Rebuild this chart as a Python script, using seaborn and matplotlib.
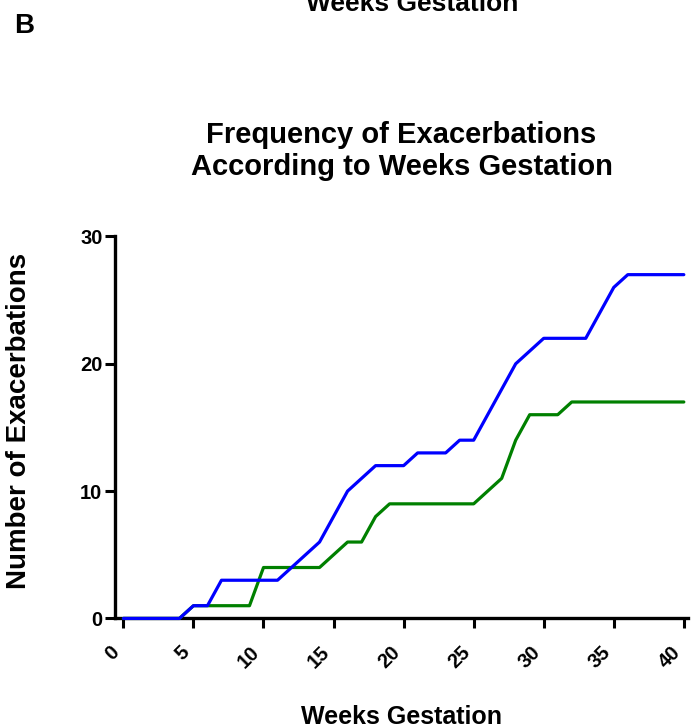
#frequency of exacerbations by weeks gestation
import seaborn as sns
import matplotlib.pyplot as plt
import pandas as pd

# data (cumulative counts per week)
weeks = list(range(0, 41))
series_blue = [0, 0, 0, 0, 0, 1, 1, 3, 3, 3, 3, 3, 4, 5, 6, 8, 10, 11, 12, 12,
               12, 13, 13, 13, 14, 14, 16, 18, 20, 21, 22, 22, 22, 22, 24, 26, 27, 27, 27, 27, 27]
series_green = [0, 0, 0, 0, 0, 1, 1, 1, 1, 1, 4, 4, 4, 4, 4, 5, 6, 6, 8, 9,
                9, 9, 9, 9, 9, 9, 10, 11, 14, 16, 16, 16, 17, 17, 17, 17, 17, 17, 17, 17, 17]
x_ticks = [0, 5, 10, 15, 20, 25, 30, 35, 40]
y_ticks = [0, 10, 20, 30]

df = pd.DataFrame({
    'week': weeks * 2,
    'count': series_green + series_blue,
    'series': ['Series 2'] * len(weeks) + ['Series 1'] * len(weeks),
})

sns.set_style('ticks')
plt.rcParams['font.family'] = ['Liberation Sans', 'DejaVu Sans']
plt.rcParams['font.weight'] = 'bold'
for key in ['text.color', 'axes.labelcolor', 'xtick.color', 'ytick.color']:
    plt.rcParams[key] = 'black'

fig = plt.figure(figsize=(6.91, 7.28), dpi=100)
ax = fig.add_axes([0.1664, 0.1505, 0.8293, 0.5247])

ax = sns.lineplot(data=df, x='week', y='count', hue='series',
                  hue_order=['Series 2', 'Series 1'],
                  palette={'Series 2': '#008000', 'Series 1': '#0000FF'},
                  linewidth=2.3, legend=False, ax=ax)
for line in ax.lines:
    line.set_clip_on(False)
    line.set_zorder(3)

ax.set_xlim(-0.6, 40.3)
ax.set_ylim(0, 30)
ax.set_xticks(x_ticks)
ax.set_yticks(y_ticks)
ax.set_xticklabels([str(t) for t in x_ticks], rotation=45, ha='right',
                   fontsize=14.5, fontweight='bold')
ax.set_yticklabels([str(t) for t in y_ticks], fontsize=14.5, fontweight='bold')

sns.despine(ax=ax)
for side in ['left', 'bottom']:
    ax.spines[side].set_linewidth(2.4)
    ax.spines[side].set_color('black')
ax.spines['left'].set_bounds(0, 30)
ax.tick_params(axis='both', width=2.2, length=7.5, color='black')
ax.tick_params(axis='x', pad=10)
ax.tick_params(axis='y', pad=1.5)

ax.set_xlabel('Weeks Gestation', fontsize=18, fontweight='bold')
ax.set_ylabel('Number of Exacerbations', fontsize=20, fontweight='bold')
ax.xaxis.set_label_coords(0.5, -0.226)
ax.yaxis.set_label_coords(-0.145, 0.518)

ax.set_title('Frequency of Exacerbations\nAccording to Weeks Gestation',
             fontsize=21, fontweight='bold', pad=44)

# panel letter and the cut-off axis title of the panel above
fig.text(14 / 691, 1 - 33 / 728, 'B', fontsize=20, fontweight='bold',
         ha='left', va='baseline')
fig.text(412 / 691, 1 - 11 / 728, 'Weeks Gestation', fontsize=19,
         fontweight='bold', ha='center', va='baseline')

plt.savefig('out.png', dpi=100)
